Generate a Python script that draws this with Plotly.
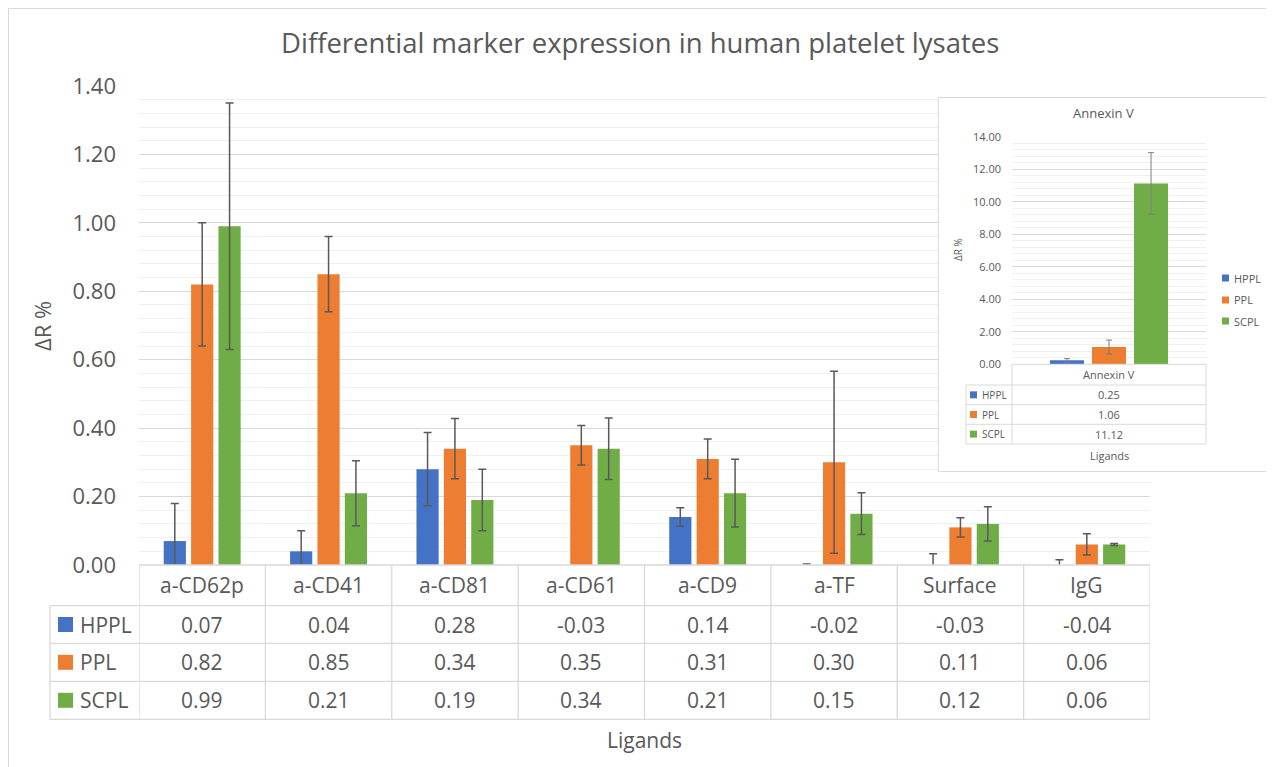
import plotly.graph_objects as go

W, H = 1274, 767
OX, OY = 8, 8  # page body offset of the figure in the browser

# ---------------- data ----------------
categories = ["a-CD62p", "a-CD41", "a-CD81", "a-CD61", "a-CD9", "a-TF", "Surface", "IgG"]
series_names = ["HPPL", "PPL", "SCPL"]
hppl = [0.07, 0.04, 0.28, -0.03, 0.14, -0.02, -0.03, -0.04]
ppl = [0.82, 0.85, 0.34, 0.35, 0.31, 0.30, 0.11, 0.06]
scpl = [0.99, 0.21, 0.19, 0.34, 0.21, 0.15, 0.12, 0.06]
hppl_err = [0.11, 0.06, 0.107, 0.02, 0.027, 0.023, 0.063, 0.055]
ppl_err = [0.18, 0.11, 0.088, 0.058, 0.058, 0.266, 0.028, 0.031]
scpl_err = [0.36, 0.095, 0.09, 0.09, 0.099, 0.061, 0.05, 0.003]

inset_categories = ["Annexin V"]
inset_hppl = [0.25]
inset_ppl = [1.06]
inset_scpl = [11.12]
inset_hppl_err = [0.10]
inset_ppl_err = [0.43]
inset_scpl_err = [1.9]

colors = ["#4472C4", "#ED7D31", "#70AD47"]
TXT = "#595959"
GRID = "#d9d9d9"
MINOR = "#f0f0f0"
FONT = "Open Sans"


def px(x):
    return (x - OX) / W


def py(y):
    return 1 - (y - OY) / H


def note(x, y, text, size, xref="paper", xanchor="center", angle=0):
    return dict(x=x, xref=xref, y=y, yref="paper", text=text, showarrow=False,
                xanchor=xanchor, yanchor="middle", textangle=angle,
                font=dict(family=FONT, size=size, color=TXT))


fig = go.Figure()

main_vals = [hppl, ppl, scpl]
main_errs = [hppl_err, ppl_err, scpl_err]
for name, vals, errs, c in zip(series_names, main_vals, main_errs, colors):
    fig.add_trace(go.Bar(
        x=categories, y=vals, name=name, marker=dict(color=c, line=dict(width=0)),
        error_y=dict(type="data", array=errs, visible=True, color=TXT, thickness=1.5, width=4),
        xaxis="x", yaxis="y", showlegend=False,
    ))

inset_vals = [inset_hppl, inset_ppl, inset_scpl]
inset_errs = [inset_hppl_err, inset_ppl_err, inset_scpl_err]
for name, vals, errs, c in zip(series_names, inset_vals, inset_errs, colors):
    fig.add_trace(go.Bar(
        x=inset_categories, y=vals, name=name, marker=dict(color=c, line=dict(width=0)),
        error_y=dict(type="data", array=errs, visible=True, color="#7f7f7f", thickness=1, width=3),
        xaxis="x3", yaxis="y3", showlegend=False,
    ))

# geometry (reference pixels)
PL, PR, PB, PT = 139, 1150, 565, 86          # main plot area
IL, IR, IB, IT = 1012, 1206, 364.3, 136.7    # inset plot area
BL, BR, BB, BT = 937, 1269, 473, 96          # inset box

shapes = []
annotations = []

# inset background box (drawn in its own subplot so that it covers the main grid)
shapes.append(dict(type="rect", xref="x2", yref="y2", x0=0, x1=1, y0=0, y1=1,
                   layer="below", fillcolor="white", line=dict(color=GRID, width=1)))

# outer chart border
shapes.append(dict(type="rect", xref="paper", yref="paper", x0=px(8.5), x1=px(1270),
                   y0=py(790), y1=py(8.5), layer="above", line=dict(color=GRID, width=1),
                   fillcolor="rgba(0,0,0,0)"))

# ---------------- main data table ----------------
row_lines = [605.7, 643.3, 681.3, 719.3]
row_centers = [(row_lines[i] + row_lines[i + 1]) / 2 for i in range(3)]
LC = 50  # left edge of legend column
line = dict(color=GRID, width=1.3)
shapes.append(dict(type="line", xref="paper", yref="paper", x0=px(PL), x1=px(PR),
                   y0=py(PB), y1=py(PB), layer="above", line=line))
for yl in row_lines:
    shapes.append(dict(type="line", xref="paper", yref="paper", x0=px(LC), x1=px(PR),
                       y0=py(yl), y1=py(yl), layer="above", line=line))
shapes.append(dict(type="line", xref="paper", yref="paper", x0=px(LC), x1=px(LC),
                   y0=py(row_lines[0]), y1=py(row_lines[-1]), layer="above", line=line))
for i in range(len(categories) + 1):
    shapes.append(dict(type="line", xref="x", yref="paper", x0=i - 0.5, x1=i - 0.5,
                       y0=py(PB), y1=py(row_lines[-1]), layer="above", line=line))

for i, cat in enumerate(categories):
    annotations.append(note(cat, py((PB + row_lines[0]) / 2), cat, 21, xref="x"))
    for r, vals in enumerate(main_vals):
        annotations.append(note(cat, py(row_centers[r]), f"{vals[i]:.2f}", 21, xref="x"))

for r, (name, c) in enumerate(zip(series_names, colors)):
    yc = row_centers[r]
    shapes.append(dict(type="rect", xref="paper", yref="paper", x0=px(58), x1=px(73),
                       y0=py(yc + 7.5), y1=py(yc - 7.5), layer="above", fillcolor=c,
                       line=dict(width=0)))
    annotations.append(note(px(78), py(yc), name, 21, xanchor="left"))

# titles
annotations.append(note(px(640), py(43), "Differential marker expression in human platelet lysates", 27.5))
annotations.append(note(px(42), py(326), "ΔR %", 22, angle=-90))
annotations.append(note(px((PL + PR) / 2), py(740), "Ligands", 21))

# ---------------- inset table / legend ----------------
irows = [385, 404.7, 424.3, 444]
icent = [(irows[i] + irows[i + 1]) / 2 for i in range(3)]
ILC = 966
iline = dict(color=GRID, width=1)
for yl in irows:
    shapes.append(dict(type="line", xref="paper", yref="paper", x0=px(ILC), x1=px(IR),
                       y0=py(yl), y1=py(yl), layer="above", line=iline))
shapes.append(dict(type="line", xref="paper", yref="paper", x0=px(ILC), x1=px(ILC),
                   y0=py(irows[0]), y1=py(irows[-1]), layer="above", line=iline))
shapes.append(dict(type="line", xref="paper", yref="paper", x0=px(IL), x1=px(IR),
                   y0=py(IB), y1=py(IB), layer="above", line=iline))
for xl in (IL, IR):
    shapes.append(dict(type="line", xref="paper", yref="paper", x0=px(xl), x1=px(xl),
                       y0=py(IB), y1=py(irows[-1]), layer="above", line=iline))

annotations.append(note(inset_categories[0], py((IB + irows[0]) / 2), inset_categories[0], 11, xref="x3"))
for r, (name, vals, c) in enumerate(zip(series_names, inset_vals, colors)):
    yc = icent[r]
    annotations.append(note(inset_categories[0], py(yc), f"{vals[0]:.2f}", 11, xref="x3"))
    shapes.append(dict(type="rect", xref="paper", yref="paper", x0=px(970), x1=px(977),
                       y0=py(yc + 3.5), y1=py(yc - 3.5), layer="above", fillcolor=c,
                       line=dict(width=0)))
    annotations.append(note(px(980), py(yc), name, 10, xanchor="left"))

leg_y = [278, 300, 321]
for name, c, yc in zip(series_names, colors, leg_y):
    shapes.append(dict(type="rect", xref="paper", yref="paper", x0=px(1222), x1=px(1229),
                       y0=py(yc + 3.5), y1=py(yc - 3.5), layer="above", fillcolor=c,
                       line=dict(width=0)))
    annotations.append(note(px(1232), py(yc), name, 11, xanchor="left"))

annotations.append(note(px(1103), py(113), "Annexin V", 13))
annotations.append(note(px(958), py(250), "ΔR %", 10, angle=-90))
annotations.append(note(px((IL + IR) / 2), py(455), "Ligands", 11))

fig.update_layout(
    width=W, height=H,
    margin=dict(l=0, r=0, t=0, b=0, pad=0, autoexpand=False),
    paper_bgcolor="white", plot_bgcolor="rgba(0,0,0,0)",
    barmode="group", bargap=0.35, bargroupgap=0.19,
    font=dict(family=FONT, color=TXT),
    showlegend=False,
    xaxis=dict(domain=[px(PL), px(PR)], anchor="y", type="category", automargin=False,
               range=[-0.5, len(categories) - 0.5],
               showticklabels=False, ticks="", showgrid=False, showline=False, zeroline=False),
    yaxis=dict(domain=[py(PB), py(PT)], anchor="x", range=[0, 1.4], dtick=0.2, automargin=False,
               tickformat=".2f", showgrid=True, gridcolor=GRID, gridwidth=1.3,
               minor=dict(dtick=0.04, showgrid=True, gridcolor=MINOR, gridwidth=1),
               zeroline=False, showline=False, ticks="", ticklabelstandoff=22,
               tickfont=dict(family=FONT, size=22, color=TXT)),
    xaxis2=dict(domain=[px(BL), px(BR)], anchor="y2", type="linear", range=[-0.004, 1.004],
                visible=False, showgrid=False, zeroline=False, automargin=False),
    yaxis2=dict(domain=[py(BB), py(BT)], anchor="x2", type="linear", range=[-0.004, 1.004],
                visible=False, showgrid=False, zeroline=False, automargin=False),
    xaxis3=dict(domain=[px(IL), px(IR)], anchor="y3", type="category", automargin=False,
                showticklabels=False, ticks="", showgrid=False, showline=False, zeroline=False),
    yaxis3=dict(domain=[py(IB), py(IT)], anchor="x3", range=[0, 14], dtick=2, automargin=False,
                tickformat=".2f", showgrid=True, gridcolor=GRID, gridwidth=1,
                minor=dict(dtick=0.4, showgrid=True, gridcolor=MINOR, gridwidth=1),
                zeroline=False, showline=False, ticks="", ticklabelstandoff=10,
                tickfont=dict(family=FONT, size=11, color=TXT)),
    shapes=shapes,
    annotations=annotations,
)

fig.write_html("out.html")
